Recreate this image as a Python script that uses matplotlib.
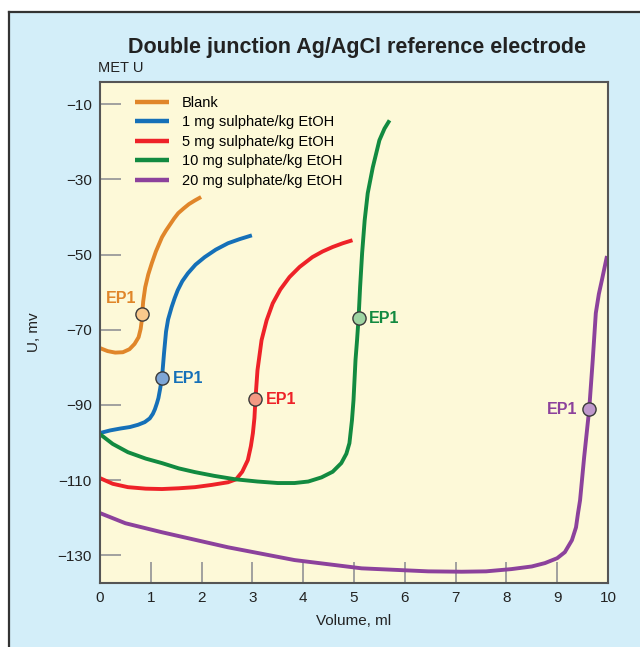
import matplotlib
matplotlib.use("Agg")

import matplotlib.pyplot as plt
from matplotlib.patches import Rectangle
from matplotlib.lines import Line2D

plt.rcParams['font.family'] = ['Liberation Sans', 'DejaVu Sans']

# Kurvedata (volum ml, U mV)
blank_v = [0, 0.15, 0.3, 0.45, 0.58, 0.68, 0.76, 0.8, 0.82, 0.83, 0.85, 0.89, 0.95,
           1.02, 1.1, 1.22, 1.3, 1.38, 1.46, 1.54, 1.65, 1.75, 1.87, 1.99]
blank_u = [-74.9, -75.7, -76.1, -76.0, -75.2, -73.8, -72.0, -69.8, -67.8, -65.9, -62.5,
           -58.7, -55.3, -52.3, -49.2, -45.4, -43.6, -42.0, -40.4, -39.0, -37.7, -36.6,
           -35.6, -34.7]

s1_v = [0, 0.2, 0.4, 0.59, 0.75, 0.88, 0.98, 1.04, 1.08, 1.12, 1.15, 1.18, 1.22, 1.26,
        1.3, 1.34, 1.41, 1.47, 1.53, 1.62, 1.73, 1.88, 2.06, 2.28, 2.52, 2.75, 2.99]
s1_u = [-97.5, -96.8, -96.3, -95.9, -95.3, -94.6, -93.6, -92.4, -91.2, -89.6, -88.2,
        -86.0, -82.9, -76.3, -70.5, -67.3, -64.0, -61.6, -59.5, -57.1, -55.0, -52.7,
        -50.7, -48.7, -47.0, -45.9, -44.9]

s5_v = [0, 0.25, 0.55, 0.9, 1.22, 1.55, 1.87, 2.2, 2.52, 2.68, 2.8, 2.91, 2.97, 3.01,
        3.04, 3.06, 3.1, 3.18, 3.28, 3.4, 3.55, 3.73, 3.93, 4.18, 4.38, 4.58, 4.78, 4.97]
s5_u = [-109.5, -111.0, -111.9, -112.3, -112.4, -112.2, -111.9, -111.3, -110.6, -109.8,
        -107.8, -104.7, -101.0, -97.5, -93.5, -88.5, -80.8, -72.8, -67.5, -63.0, -59.3,
        -56.0, -53.3, -50.7, -49.2, -48.0, -47.0, -46.2]

s10_v = [0, 0.25, 0.55, 0.9, 1.22, 1.55, 1.87, 2.25, 2.66, 3.1, 3.5, 3.83, 4.1, 4.36,
         4.58, 4.75, 4.85, 4.91, 4.96, 4.99, 5.03, 5.06, 5.09, 5.12, 5.16, 5.21, 5.27,
         5.37, 5.5, 5.6, 5.7]
s10_u = [-97.8, -100.4, -102.6, -104.3, -105.5, -106.9, -107.9, -108.9, -109.8, -110.4,
         -110.8, -110.8, -110.4, -109.3, -107.8, -105.5, -103.0, -100.2, -94.1, -88.8,
         -78.0, -72.8, -66.9, -58.7, -49.6, -40.9, -33.7, -26.8, -19.6, -16.5, -14.3]

s20_v = [0, 0.5, 1.22, 2.52, 3.83, 5.15, 6.46, 7.12, 7.6, 8.1, 8.5, 8.76, 9.0, 9.15,
         9.29, 9.37, 9.41, 9.45, 9.53, 9.63, 9.7, 9.76, 9.82, 9.88, 9.98]
s20_u = [-118.8, -121.5, -123.9, -127.9, -131.3, -133.5, -134.3, -134.4, -134.3, -133.7,
         -133.0, -132.1, -130.8, -129.2, -126.0, -122.6, -118.8, -115.4, -104.0, -91.2,
         -78.0, -65.6, -60.5, -56.8, -50.4]

labels = ['Blank', '1 mg sulphate/kg EtOH', '5 mg sulphate/kg EtOH',
          '10 mg sulphate/kg EtOH', '20 mg sulphate/kg EtOH']
colors = ['#e0862a', '#1570b8', '#ee2228', '#128a40', '#8c429c']
ep_fill = ['#fbc98c', '#7ea6d6', '#f39a84', '#9ed4a2', '#bf98cc']

# Endepunkter (EP1)
ep_v = [0.83, 1.22, 3.06, 5.09, 9.63]
ep_u = [-65.9, -82.9, -88.5, -66.9, -91.2]
ep_side = ['left', 'right', 'right', 'right', 'left']

yticks = [-10, -30, -50, -70, -90, -110, -130]
xticks = list(range(0, 11))

fig = plt.figure(figsize=(6.4, 6.47), dpi=100)
fig.patch.set_facecolor('white')

# Lyseblå bakgrunnsramme
fig.patches.append(Rectangle((9 / 640, 0), 1, 1 - 12 / 647, transform=fig.transFigure,
                             facecolor='#d3eef9', edgecolor='none', zorder=-10))
fig.lines.append(Line2D([9 / 640, 9 / 640], [0, 1 - 12 / 647], transform=fig.transFigure,
                        color='#333333', lw=1.6, zorder=-5))
fig.lines.append(Line2D([9 / 640, 1], [1 - 12 / 647, 1 - 12 / 647], transform=fig.transFigure,
                        color='#333333', lw=1.6, zorder=-5))

ax = fig.add_axes([100 / 640, 64 / 647, 508 / 640, 501 / 647])
ax.set_facecolor('#fdf9d8')

series = [(blank_v, blank_u), (s1_v, s1_u), (s5_v, s5_u), (s10_v, s10_u), (s20_v, s20_u)]
for (v, u), lab, c in zip(series, labels, colors):
    ax.plot(v, u, color=c, lw=2.8, label=lab, solid_capstyle='butt', solid_joinstyle='round')

for x, y, c, f, side in zip(ep_v, ep_u, colors, ep_fill, ep_side):
    ax.plot(x, y, 'o', ms=9.5, mfc=f, mec='#3a3a3a', mew=1.0, zorder=5)
    if side == 'right':
        ax.annotate('EP1', (x, y), xytext=(7.5, 0), textcoords='offset points',
                    color=c, fontsize=11.5, fontweight='bold', va='center', ha='left')
    else:
        dy = 11 if x < 2 else 0
        ax.annotate('EP1', (x, y), xytext=(-4 if x < 2 else -8.5, dy), textcoords='offset points',
                    color=c, fontsize=11.5, fontweight='bold', va='center', ha='right')

ax.set_xlim(0, 10)
ax.set_ylim(-137.4, -4.1)
ax.set_xticks(xticks)
ax.set_yticks(yticks)
ax.set_yticklabels(['\u2212' + str(abs(t)) for t in yticks])
ax.tick_params(direction='in', length=15, width=1.3, color='#9a9a9a', labelsize=11,
               labelcolor='#222222', pad=6)
for sp in ax.spines.values():
    sp.set_color('#555555')
    sp.set_linewidth(1.5)

ax.set_xlabel('Volume, ml', fontsize=11, color='#222222', labelpad=6)
ax.set_ylabel('U, mv', fontsize=11, color='#222222', labelpad=12)

fig.text(357 / 640, 1 - 47 / 647, 'Double junction Ag/AgCl reference electrode',
         ha='center', va='center', fontsize=15.5, fontweight='bold', color='#222222')
fig.text(98 / 640, 1 - 68 / 647, 'MET U', ha='left', va='center', fontsize=10.5, color='#222222')

leg = ax.legend(loc='upper left', bbox_to_anchor=(0.043, 0.999), frameon=False,
                fontsize=10.5, handlelength=2.3, handletextpad=0.9, labelspacing=0.38)
for line in leg.get_lines():
    line.set_linewidth(3.2)

fig.savefig('out.png', dpi=100)
